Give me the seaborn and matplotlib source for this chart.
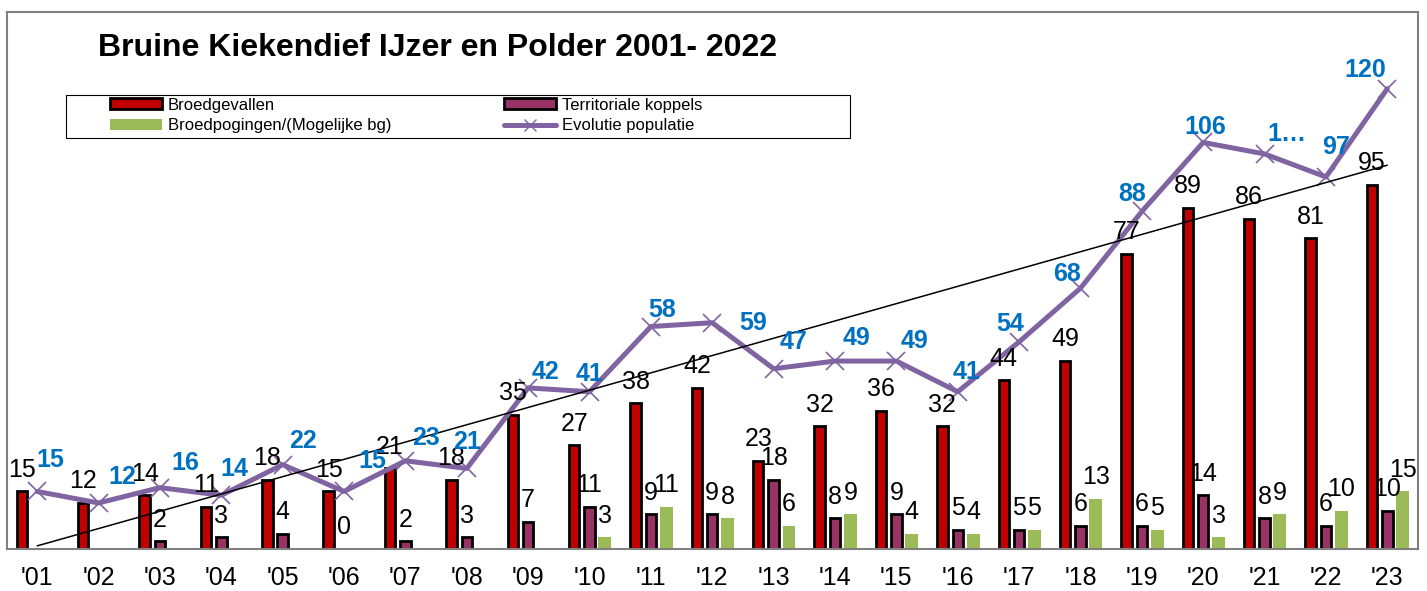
import numpy as np
import pandas as pd
import matplotlib
matplotlib.use("Agg")
import matplotlib.pyplot as plt
import seaborn as sns
from matplotlib.patches import Patch, Rectangle
from matplotlib.lines import Line2D

# data
years = ["'01", "'02", "'03", "'04", "'05", "'06", "'07", "'08", "'09", "'10", "'11", "'12",
         "'13", "'14", "'15", "'16", "'17", "'18", "'19", "'20", "'21", "'22", "'23"]
broedgevallen = [15, 12, 14, 11, 18, 15, 21, 18, 35, 27, 38, 42, 23, 32, 36, 32, 44, 49, 77, 89, 86, 81, 95]
territoriale = [np.nan, np.nan, 2, 3, 4, 0, 2, 3, 7, 11, 9, 9, 18, 8, 9, 5, 5, 6, 6, 14, 8, 6, 10]
broedpogingen = [np.nan] * 9 + [3, 11, 8, 6, 9, 4, 4, 5, 13, 5, 3, 9, 10, 15]
population = [15, 12, 16, 14, 22, 15, 23, 21, 42, 41, 58, 59, 47, 49, 49, 41, 54, 68, 88, 106, 103, 97, 120]
population_labels = [str(v) for v in population]
population_labels[20] = "1\u2026"  # truncated in the original

series_names = ["Broedgevallen", "Territoriale koppels", "Broedpogingen/(Mogelijke bg)"]
colors = {"Broedgevallen": "#C00000",
          "Territoriale koppels": "#993366",
          "Broedpogingen/(Mogelijke bg)": "#9BBB59"}
line_color = "#8064A2"
label_blue = "#0070C0"

# offsets (pixels, right / up) of the blue labels, as placed in the original
pop_dx = [13, 24, 25, 13, 20, 28, 21, 0, 17, 0, 11, 41, 20, 22, 18, 9, -9, -13, -10, 2, 22, 10, -22]
pop_dy = [31, 26, 25, 26, 24, 30, 23, 26, 16, 18, 17, 0, 27, 23, 20, 20, 18, 14, 17, 15, 20, 30, 19]

rows = []
for name, vals in zip(series_names, [broedgevallen, territoriale, broedpogingen]):
    for yr, v in zip(years, vals):
        if not np.isnan(v):
            rows.append({"year": yr, "series": name, "value": v})
df = pd.DataFrame(rows)

sns.set_style("white")
plt.rcParams["font.family"] = ["Liberation Sans", "DejaVu Sans"]
plt.rcParams["text.color"] = "black"
plt.rcParams["xtick.color"] = "black"

fig = plt.figure(figsize=(14.27, 5.91), dpi=100)
ax = fig.add_axes([0.00456, 0.07107, 0.98913, 0.9086])

sns.barplot(data=df, x="year", y="value", hue="series", order=years, hue_order=series_names,
            palette=colors, saturation=1, width=0.75, gap=0.32, edgecolor="black", linewidth=2,
            errorbar=None, legend=False, ax=ax, zorder=2)

# green series: wider, no outline
for p in ax.containers[2]:
    cx = p.get_x() + p.get_width() / 2
    p.set_width(0.21)
    p.set_x(cx - 0.105)
    p.set_edgecolor("none")
    p.set_linewidth(0)

for cont in ax.containers:
    ax.bar_label(cont, fmt="{:.0f}", padding=7, fontsize=18, color="black", zorder=6)

x = np.arange(len(years))
sns.lineplot(x=x, y=population, ax=ax, color=line_color, linewidth=3.6, marker="x",
             markersize=13, markeredgewidth=1.2, markeredgecolor=line_color, zorder=3)

# linear trend of the population
slope, icpt = np.polyfit(x, population, 1)
ax.plot([x[0], x[-1]], [icpt, icpt + slope * x[-1]], color="black", linewidth=1.1, zorder=4)

for xi, v, lab, dx, dy in zip(x, population, population_labels, pop_dx, pop_dy):
    ax.annotate(lab, (xi, v), xytext=(dx * 0.72, dy * 0.72), textcoords="offset points",
                ha="center", va="center", fontsize=18, fontweight="bold", color=label_blue, zorder=7)

ax.set_xlim(-0.5, len(years) - 0.5)
ax.set_ylim(0, 140)
ax.set_yticks([])
ax.set_xlabel("")
ax.set_ylabel("")
ax.tick_params(axis="x", length=0, pad=12, labelsize=18, labelcolor="black")
for s in ax.spines.values():
    s.set_visible(True)
    s.set_color("#808080")
    s.set_linewidth(1.5)

fig.text(98 / 1427, 1 - 48 / 591, "Bruine Kiekendief IJzer en Polder 2001- 2022",
         ha="left", va="center", fontsize=23, fontweight="bold", color="black")

handles = [Patch(facecolor=colors["Broedgevallen"], edgecolor="black", linewidth=2),
           Patch(facecolor=colors["Broedpogingen/(Mogelijke bg)"], edgecolor="none"),
           Patch(facecolor=colors["Territoriale koppels"], edgecolor="black", linewidth=2),
           Line2D([], [], color=line_color, linewidth=3.6, marker="x", markersize=9,
                  markeredgecolor=line_color)]
labels = ["Broedgevallen", "Broedpogingen/(Mogelijke bg)", "Territoriale koppels", "Evolutie populatie"]
fig.legend(handles, labels, ncol=2, loc="center left", bbox_to_anchor=(110 / 1427, 1 - 115.5 / 591),
           frameon=False, fontsize=12, handlelength=3.1, handleheight=0.6, handletextpad=0.35,
           columnspacing=6.8, labelspacing=0.35, borderpad=0, borderaxespad=0)
fig.patches.append(Rectangle((66 / 1427, 1 - 138 / 591), 784 / 1427, 43 / 591, fill=False,
                             edgecolor="black", linewidth=0.8, transform=fig.transFigure, zorder=5))

fig.savefig("out.png", dpi=100)
